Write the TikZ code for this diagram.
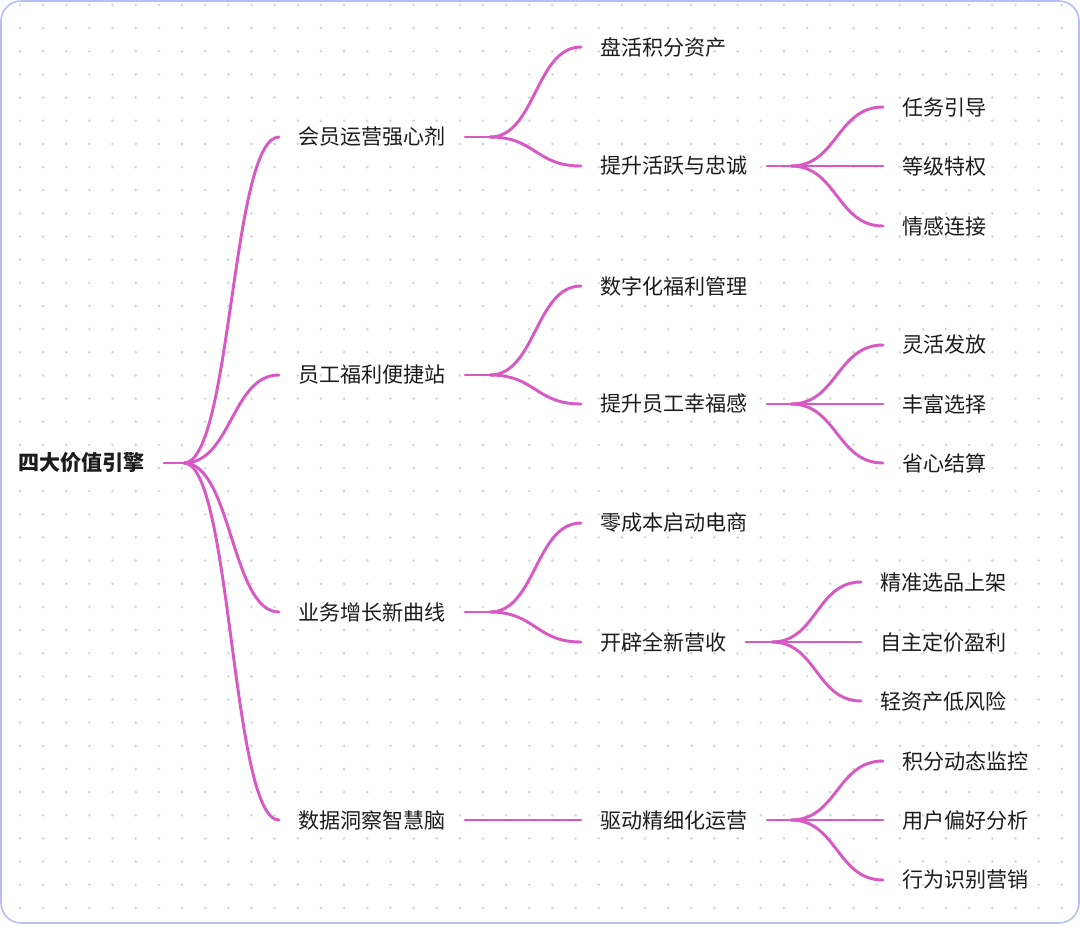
\documentclass[tikz,border=0pt]{standalone}
\usepackage{fontspec}
\setmainfont{Noto Sans CJK SC}
\usetikzlibrary{calc}

\definecolor{mmpink}{RGB}{216,88,196}
\definecolor{cardline}{RGB}{186,190,244}
\definecolor{dotgray}{RGB}{214,214,214}
\definecolor{inkblack}{RGB}{28,28,28}

\tikzset{
  topic/.style={anchor=west,inner xsep=14.25pt,inner ysep=2pt,text=inkblack,
    font=\fontsize{15.8pt}{19pt}\selectfont},
  roottopic/.style={topic,font=\fontsize{15.8pt}{19pt}\selectfont\bfseries},
  branch/.style={draw=mmpink,line width=2.2pt,line cap=round},
  mmlink/.style={branch,to path={.. controls ($(\tikztostart)!0.5!(\tikztotarget|-\tikztostart)$)
    and ($(\tikztotarget)!0.5!(\tikztostart|-\tikztotarget)$) .. (\tikztotarget)}}
}

\begin{document}
\begin{tikzpicture}[x=0.75pt,y=-0.75pt]

% Canvas (pixel units, y downwards)
\useasboundingbox (0,0) rectangle (1080,926);
\fill[white] (0,0) rectangle (1080,926);

% Dotted grid
\foreach \i in {0,...,45}
  \foreach \j in {0,...,39}
    \fill[dotgray] ({20+23.15*\i},{5+23.15*\j}) circle (1.1pt);

% Card border
\draw[cardline,line width=1.2pt,rounded corners=15pt] (1,1) rectangle (1079,923);

% Column x-positions (node west = text start - 19)
\def\xa{-1}
\def\xb{279}
\def\xc{581}
\def\xd{883}
\def\xe{861}

% Root
\node[roottopic] (root) at (\xa,463) {四大价值引擎};

% Level 1
\node[topic] (hy) at (\xb,137) {会员运营强心剂};
\node[topic] (yg) at (\xb,375) {员工福利便捷站};
\node[topic] (yw) at (\xb,612) {业务增长新曲线};
\node[topic] (sj) at (\xb,820) {数据洞察智慧脑};

% Level 2
\node[topic] (phzc) at (\xc,47)  {盘活积分资产};
\node[topic] (tshy) at (\xc,166) {提升活跃与忠诚};
\node[topic] (szfl) at (\xc,286) {数字化福利管理};
\node[topic] (tsxf) at (\xc,404) {提升员工幸福感};
\node[topic] (lcb)  at (\xc,523) {零成本启动电商};
\node[topic] (kpys) at (\xc,642) {开辟全新营收};
\node[topic] (qdyy) at (\xc,820) {驱动精细化运营};

% Level 3
\node[topic] (rwyd) at (\xd,107) {任务引导};
\node[topic] (djtq) at (\xd,166) {等级特权};
\node[topic] (qglj) at (\xd,226) {情感连接};
\node[topic] (lhff) at (\xd,345) {灵活发放};
\node[topic] (ffxz) at (\xd,404) {丰富选择};
\node[topic] (sxjs) at (\xd,463) {省心结算};
\node[topic] (jzxp) at (\xe,582) {精准选品上架};
\node[topic] (zzdj) at (\xe,642) {自主定价盈利};
\node[topic] (lzc)  at (\xe,701) {轻资产低风险};
\node[topic] (jfjk) at (\xd,761) {积分动态监控};
\node[topic] (yhph) at (\xd,820) {用户偏好分析};
\node[topic] (xwsb) at (\xd,880) {行为识别营销};

% Branches: root
\draw[branch] (root.east) -- ++(20,0) coordinate (rootj);
\foreach \c in {hy,yg,yw,sj}
  \draw[mmlink] (rootj) to (\c.west);

% Branches: level 1
\draw[branch] (hy.east) -- ++(25,0) coordinate (hyj);
\foreach \c in {phzc,tshy}
  \draw[mmlink] (hyj) to (\c.west);
\draw[branch] (yg.east) -- ++(25,0) coordinate (ygj);
\foreach \c in {szfl,tsxf}
  \draw[mmlink] (ygj) to (\c.west);
\draw[branch] (yw.east) -- ++(25,0) coordinate (ywj);
\foreach \c in {lcb,kpys}
  \draw[mmlink] (ywj) to (\c.west);
\draw[branch] (sj.east) -- (qdyy.west);

% Branches: level 2
\draw[branch] (tshy.east) -- ++(24,0) coordinate (tshyj);
\foreach \c in {rwyd,djtq,qglj}
  \draw[mmlink] (tshyj) to (\c.west);
\draw[branch] (tsxf.east) -- ++(24,0) coordinate (tsxfj);
\foreach \c in {lhff,ffxz,sxjs}
  \draw[mmlink] (tsxfj) to (\c.west);
\draw[branch] (kpys.east) -- ++(26,0) coordinate (kpysj);
\foreach \c in {jzxp,zzdj,lzc}
  \draw[mmlink] (kpysj) to (\c.west);
\draw[branch] (qdyy.east) -- ++(24,0) coordinate (qdyyj);
\foreach \c in {jfjk,yhph,xwsb}
  \draw[mmlink] (qdyyj) to (\c.west);

\end{tikzpicture}
\end{document}
